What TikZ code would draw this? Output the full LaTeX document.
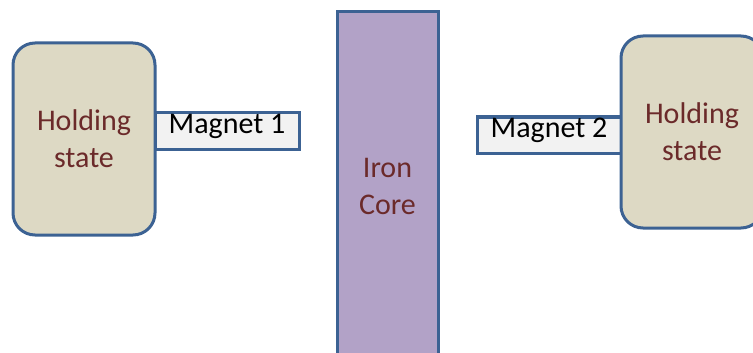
\documentclass[tikz,border=0pt]{standalone}
\usepackage{fontspec}
\setmainfont{Carlito}
\usetikzlibrary{positioning}

\definecolor{edgeblue}{HTML}{3C6293}
\definecolor{holdfill}{HTML}{DDD9C4}
\definecolor{corefill}{HTML}{B2A2C7}
\definecolor{magfill}{HTML}{F2F2F2}
\definecolor{textred}{HTML}{6B2A2A}

\begin{document}
\begin{tikzpicture}[
        x=1pt,y=1pt,
        hold/.style={
          draw=edgeblue,
          line width=3pt,
          fill=holdfill,
          rounded corners=22pt,
          minimum width=142pt,
          minimum height=192pt,
          inner sep=0pt,
          outer sep=0pt,
          align=center,
          text=textred,
          font=\fontsize{30}{37}\selectfont
        },
        magnet/.style={
          draw=edgeblue,
          line width=3pt,
          fill=magfill,
          minimum width=144pt,
          minimum height=36pt,
          inner sep=0pt,
          outer sep=0pt,
          text height=19pt,
          text depth=14pt,
          font=\fontsize{30}{37}\selectfont
        },
        corebox/.style={
          draw=edgeblue,
          line width=3pt,
          fill=corefill,
          minimum width=101pt,
          minimum height=348pt,
          inner sep=0pt,
          outer sep=0pt,
          align=center,
          text=textred,
          font=\fontsize{30}{37}\selectfont
        }
        ]
        \useasboundingbox (0,0) rectangle (753,-353);
        \clip (0,0) rectangle (753,-353);

        \node[hold] at (84,-139) 
          (hold1) {Holding\\state};
        \node[magnet,right=0pt of hold1,yshift=8pt] 
          (mag1) {Magnet 1};

        \node[corebox] at (387.5,-186) 
          (core) {Iron\\Core};

        \node[magnet] at (549,-135) 
          (mag2) {Magnet 2};
        \node[hold,right=0pt of mag2,yshift=3pt] 
          (hold2) {Holding\\state};
    \end{tikzpicture}
\end{document}
